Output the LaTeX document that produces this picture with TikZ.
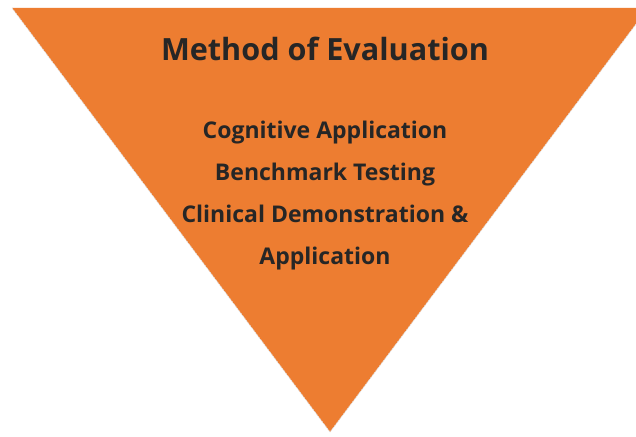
\documentclass[tikz,border=0pt]{standalone}
\usepackage{fontspec}
\setmainfont{Open Sans}
\definecolor{tri}{HTML}{ED7D31}
\definecolor{txt}{HTML}{262626}
\begin{document}
\begin{tikzpicture}[x=1pt,y=-1pt,
  title/.style={font=\bfseries\fontsize{30.6}{36}\selectfont, text=txt, anchor=base, inner sep=0},
  item/.style={font=\bfseries\fontsize{23}{28}\selectfont, text=txt, anchor=base, inner sep=0}]
\useasboundingbox (0,0) rectangle (636,436);
\fill[white] (0,0) rectangle (636,436);
\coordinate (tl) at (12,8);
\coordinate (tr) at (648,8);
\coordinate (apex) at (330,432);
\fill[tri] (tl) -- (tr) -- (apex) -- cycle;
\draw[gray!25, line width=0.6pt, dash pattern=on 2pt off 1pt] (tl) -- (apex) -- (tr);
\node[title] (t) at (325,60) {Method of Evaluation};
\node[item] (a) at (325,138) {Cognitive Application};
\node[item] (b) at (325,180) {Benchmark Testing};
\node[item] (c) at (325,222) {Clinical Demonstration \&};
\node[item] (d) at (325,264) {Application};
\end{tikzpicture}
\end{document}
